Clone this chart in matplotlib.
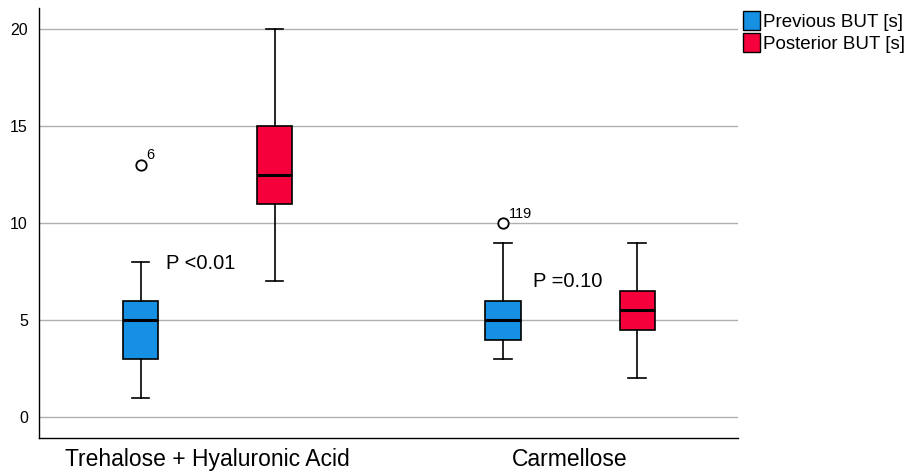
import numpy as np
import matplotlib.pyplot as plt
from matplotlib.patches import Patch

plt.rcParams["font.family"] = ["Liberation Sans", "DejaVu Sans"]

# ---- data ----
groups = ["Trehalose + Hyaluronic Acid", "Carmellose"]
series = ["Previous BUT [s]", "Posterior BUT [s]"]
colors = ["#1690e2", "#f5003a"]

# per group: [previous, posterior]
whislo = [[1, 7], [3, 2]]
q1 = [[3, 11], [4, 4.5]]
med = [[5, 12.5], [5, 5.5]]
q3 = [[6, 15], [6, 6.5]]
whishi = [[8, 20], [9, 9]]
fliers = [[[13], []], [[10], []]]
flier_ids = [[["6"], []], [["119"], []]]
p_labels = ["P <0.01", "P =0.10"]
p_ypos = [7.9, 7.0]
p_xoff = [-0.114, -0.103]

fig = plt.figure(figsize=(9.11, 4.72), dpi=100)
ax = fig.add_axes([39 / 911, 34 / 472, 699 / 911, 430 / 472])

offset = 0.185
width = 0.097

for gi in range(len(groups)):
    for si in range(len(series)):
        pos = gi + (si - 0.5) * 2 * offset
        stats = [{
            "whislo": whislo[gi][si], "q1": q1[gi][si], "med": med[gi][si],
            "q3": q3[gi][si], "whishi": whishi[gi][si], "fliers": fliers[gi][si],
        }]
        ax.bxp(stats, positions=[pos], widths=width, patch_artist=True,
               boxprops=dict(facecolor=colors[si], edgecolor="black", linewidth=1.2),
               medianprops=dict(color="black", linewidth=2.2),
               whiskerprops=dict(color="black", linewidth=1.2),
               capprops=dict(color="black", linewidth=1.2),
               capwidths=width * 0.5,
               flierprops=dict(marker="o", markerfacecolor="white",
                               markeredgecolor="black", markersize=7.5,
                               markeredgewidth=1.3),
               manage_ticks=False, zorder=3)
        for val, lab in zip(fliers[gi][si], flier_ids[gi][si]):
            ax.text(pos + 0.015, val + 0.5, lab, fontsize=10.5, ha="left", va="center")

    ax.text(gi + p_xoff[gi], p_ypos[gi], p_labels[gi], fontsize=14.5,
            ha="left", va="center")

ax.set_xlim(-0.465, 1.463)
ax.set_ylim(-1.08, 21.1)
ax.set_yticks([0, 5, 10, 15, 20])
ax.set_xticks(range(len(groups)))
ax.set_xticklabels(groups, fontsize=16.5)
ax.tick_params(axis="y", labelsize=11.5, length=0, pad=8)
ax.tick_params(axis="x", length=0, pad=7)
ax.yaxis.grid(True, color="#b0b0b0", linewidth=1)
ax.set_axisbelow(True)
for s in ["top", "right"]:
    ax.spines[s].set_visible(False)
for s in ["left", "bottom"]:
    ax.spines[s].set_color("black")
    ax.spines[s].set_linewidth(1)

handles = [Patch(facecolor=c, edgecolor="black", label=l) for c, l in zip(colors, series)]
fig.legend(handles=handles, loc="upper left", bbox_to_anchor=(732 / 911, 1.0),
           frameon=False, fontsize=13.5, handlelength=0.9, handleheight=1.15,
           handletextpad=0.15, labelspacing=0.12, borderaxespad=0.2)

fig.savefig("out.png", dpi=100)
